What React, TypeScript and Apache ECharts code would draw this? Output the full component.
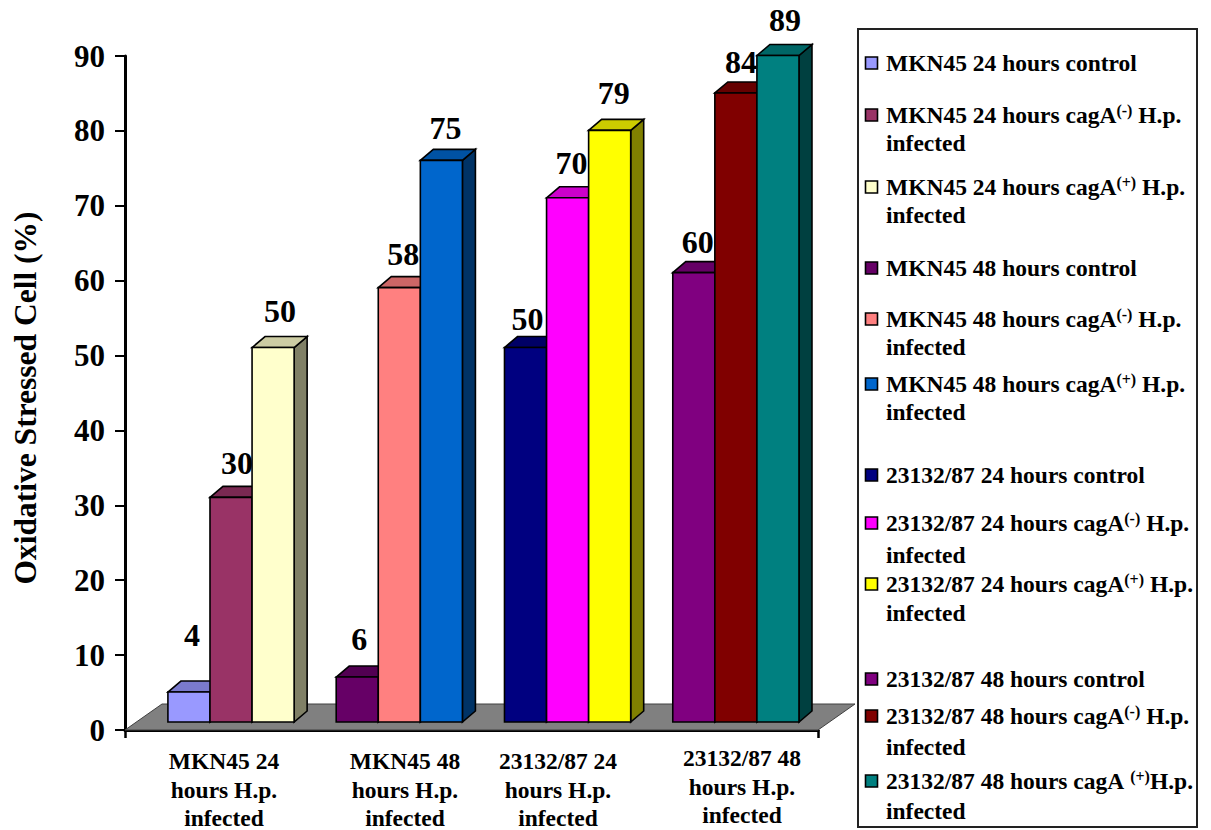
import React, { useEffect, useRef } from "react";
import * as echarts from "echarts";

const FONT = '"Liberation Serif", "Times New Roman", serif';

const groupLabels = [
  ["MKN45 24", "hours H.p.", "infected"],
  ["MKN45 48", "hours H.p.", "infected"],
  ["23132/87 24", "hours H.p.", "infected"],
  ["23132/87 48", "hours H.p.", "infected"],
];
const groupLabelX = [224, 405, 558, 742];
const groupLabelY = [761, 761, 761, 758];

const barValues = [4, 30, 50, 6, 58, 75, 50, 70, 79, 60, 84, 89];
const barGroups = [0, 0, 0, 1, 1, 1, 2, 2, 2, 3, 3, 3];
const barSlots = [0, 1, 2, 0, 1, 2, 0, 1, 2, 0, 1, 2];
const barColors = [
  "#9999FF", "#993366", "#FFFFCC", "#660066", "#FF8080", "#0066CC",
  "#000080", "#FF00FF", "#FFFF00", "#800080", "#800000", "#008080",
];
// Hand-placed value labels: offset from the centre of each bar's top edge.
const labelDx = [3, 6, 7, 2, 4, 4, 2, 4, 4, 4, 5, 7];
const labelDy = [-57, -34, -37, -38, -34, -32, -29, -35, -37, -31, -31, -35];

const seriesNames = [
  "MKN45 24 hours control",
  "MKN45 24 hours cagA(-) H.p. infected",
  "MKN45 24 hours cagA(+) H.p. infected",
  "MKN45 48 hours control",
  "MKN45 48 hours cagA(-) H.p. infected",
  "MKN45 48 hours cagA(+) H.p. infected",
  "23132/87 24 hours control",
  "23132/87 24 hours cagA(-) H.p. infected",
  "23132/87 24 hours cagA(+) H.p. infected",
  "23132/87 48 hours control",
  "23132/87 48 hours cagA(-) H.p. infected",
  "23132/87 48 hours cagA (+)H.p. infected",
];
// Legend rows as rich text; the second line of a row is always "infected".
const legendFirstLines = [
  "{b|MKN45 24 hours control}",
  "{b|MKN45 24 hours cagA}{s|(-)}{b| H.p.}",
  "{b|MKN45 24 hours cagA}{s|(+)}{b| H.p.}",
  "{b|MKN45 48 hours control}",
  "{b|MKN45 48 hours cagA}{s|(-)}{b| H.p.}",
  "{b|MKN45 48 hours cagA}{s|(+)}{b| H.p.}",
  "{b|23132/87 24 hours control}",
  "{b|23132/87 24 hours cagA}{s|(-)}{b| H.p.}",
  "{b|23132/87 24 hours cagA}{s|(+)}{b| H.p.}",
  "{b|23132/87 48 hours control}",
  "{b|23132/87 48 hours cagA}{s|(-)}{b| H.p.}",
  "{b|23132/87 48 hours cagA }{s|(+)}{b|H.p.}",
];
const legendRowY = [63, 115, 187, 268, 319, 384, 475, 523, 584, 679, 716, 781];
const legendSecondY = [0, 143, 215, 0, 347, 412, 0, 555, 613, 0, 747, 811];

const GROUP_SLOT = 0.25; // width of one bar on the x scale
const FLOOR_LIFT = 8; // bars stand this far behind the axis line
const DEPTH_X = 13;
const DEPTH_Y = 11;
const FLOOR_X = 37;
const FLOOR_Y = 26;

function shade(hex: string, k: number) {
  const n = parseInt(hex.slice(1), 16);
  const c = [(n >> 16) & 255, (n >> 8) & 255, n & 255].map((v) => Math.round(v * k));
  return `rgb(${c[0]},${c[1]},${c[2]})`;
}

function renderFloor(_: any, api: any) {
  const l = api.coord([api.value(0), 0]);
  const r = api.coord([api.value(1), 0]);
  return {
    type: "polygon",
    shape: {
      points: [
        [l[0], l[1]],
        [l[0] + FLOOR_X, l[1] - FLOOR_Y],
        [r[0] + FLOOR_X, r[1] - FLOOR_Y],
        [r[0], r[1]],
      ],
    },
    style: { fill: "#808080", stroke: "#404040", lineWidth: 1 },
  };
}

function renderBar(params: any, api: any) {
  const idx = params.seriesIndex - 1;
  const centre = api.value(0) - 1.5 * GROUP_SLOT + (api.value(1) + 0.5) * GROUP_SLOT;
  const value = api.value(2);
  const halfW = (api.size([GROUP_SLOT, 0])[0]) / 2;
  const top = api.coord([centre, value]);
  const base = api.coord([centre, 0]);
  const x0 = top[0] - halfW;
  const x1 = top[0] + halfW;
  const y0 = top[1] - FLOOR_LIFT;
  const y1 = base[1] - FLOOR_LIFT;
  const color = barColors[idx];
  const edge = { stroke: "#000", lineWidth: 1.6, lineJoin: "miter" };
  return {
    type: "group",
    children: [
      {
        type: "polygon",
        shape: { points: [[x1, y0], [x1 + DEPTH_X, y0 - DEPTH_Y], [x1 + DEPTH_X, y1 - DEPTH_Y], [x1, y1]] },
        style: { fill: shade(color, 0.5), ...edge },
      },
      {
        type: "polygon",
        shape: { points: [[x0, y0], [x0 + DEPTH_X, y0 - DEPTH_Y], [x1 + DEPTH_X, y0 - DEPTH_Y], [x1, y0]] },
        style: { fill: shade(color, 0.8), ...edge },
      },
      { type: "rect", shape: { x: x0, y: y0, width: x1 - x0, height: y1 - y0 }, style: { fill: color, ...edge } },
      {
        type: "text",
        style: {
          text: String(value),
          x: top[0] + labelDx[idx],
          y: y0 + labelDy[idx],
          align: "center",
          verticalAlign: "middle",
          fill: "#000",
          font: `bold 32px ${FONT}`,
        },
      },
    ],
  };
}

function legendGraphics() {
  const rich = {
    b: { font: `bold 23.5px ${FONT}`, fill: "#000" },
    s: { font: `bold 16px ${FONT}`, fill: "#000", verticalAlign: "top", padding: [0, 0, 10, 0] },
  };
  const items: any[] = [
    {
      type: "rect",
      shape: { x: 858, y: 29, width: 339, height: 798 },
      style: { fill: "#fff", stroke: "#222", lineWidth: 2 },
    },
  ];
  seriesNames.forEach((_, i) => {
    items.push({
      type: "rect",
      shape: { x: 865.5, y: legendRowY[i] - 6, width: 12, height: 12 },
      style: { fill: barColors[i], stroke: "#000", lineWidth: 1.6 },
    });
    items.push({
      type: "text",
      style: { text: legendFirstLines[i], x: 886, y: legendRowY[i], verticalAlign: "middle", rich },
    });
    if (legendSecondY[i]) {
      items.push({
        type: "text",
        style: { text: "infected", x: 886, y: legendSecondY[i], verticalAlign: "middle", font: `bold 23.5px ${FONT}`, fill: "#000" },
      });
    }
  });
  return items;
}

function groupLabelGraphics() {
  const items: any[] = [];
  groupLabels.forEach((lines, g) => {
    lines.forEach((line, k) => {
      items.push({
        type: "text",
        style: {
          text: line,
          x: groupLabelX[g],
          y: groupLabelY[g] + k * 28.5,
          align: "center",
          verticalAlign: "middle",
          font: `bold 23.5px ${FONT}`,
          fill: "#000",
        },
      });
    });
  });
  return items;
}

export default function App() {
  const ref = useRef<HTMLDivElement>(null);
  useEffect(() => {
    const chart = echarts.init(ref.current!, null, { renderer: "svg" });
    const xMin = -0.63;
    const xMax = 3.488;
    const axisLine = { lineStyle: { color: "#000", width: 3 } };
    chart.setOption({
      animation: false,
      backgroundColor: "#fff",
      grid: { left: 125, top: 56, width: 693, height: 674, outerBoundsMode: "none" },
      xAxis: {
        type: "value",
        min: xMin,
        max: xMax,
        axisLine: { show: true, ...axisLine },
        axisTick: { show: true, length: 8, customValues: [xMin, xMax], lineStyle: { color: "#000", width: 2.5 } },
        axisLabel: { show: false },
        splitLine: { show: false },
      },
      yAxis: {
        type: "value",
        min: 0,
        max: 90,
        interval: 10,
        name: "Oxidative Stressed Cell (%)",
        nameLocation: "middle",
        nameRotate: 90,
        nameGap: 84,
        nameTextStyle: { fontFamily: FONT, fontWeight: "bold", fontSize: 31.5, color: "#000", padding: [0, 10, 0, 0] },
        axisLine: { show: true, onZero: false, ...axisLine },
        axisTick: { show: true, length: 10, lineStyle: { color: "#000", width: 2 } },
        axisLabel: { fontFamily: FONT, fontWeight: "bold", fontSize: 31, color: "#000", margin: 20 },
        splitLine: { show: false },
      },
      series: [
        { type: "custom", name: "floor", silent: true, renderItem: renderFloor, data: [[xMin, xMax]], encode: { x: [0, 1] }, z: 1 },
        ...seriesNames.map((name, i) => ({
          type: "custom",
          name,
          silent: true,
          renderItem: renderBar,
          data: [[barGroups[i], barSlots[i], barValues[i]]],
          encode: { x: 0, y: 2 },
          z: 3 + i,
        })),
      ],
      graphic: { elements: [...legendGraphics(), ...groupLabelGraphics()] },
    });
    return () => chart.dispose();
  }, []);
  return <div ref={ref} style={{ position: "absolute", left: 0, top: 0, width: 1211, height: 830 }} />;
}
